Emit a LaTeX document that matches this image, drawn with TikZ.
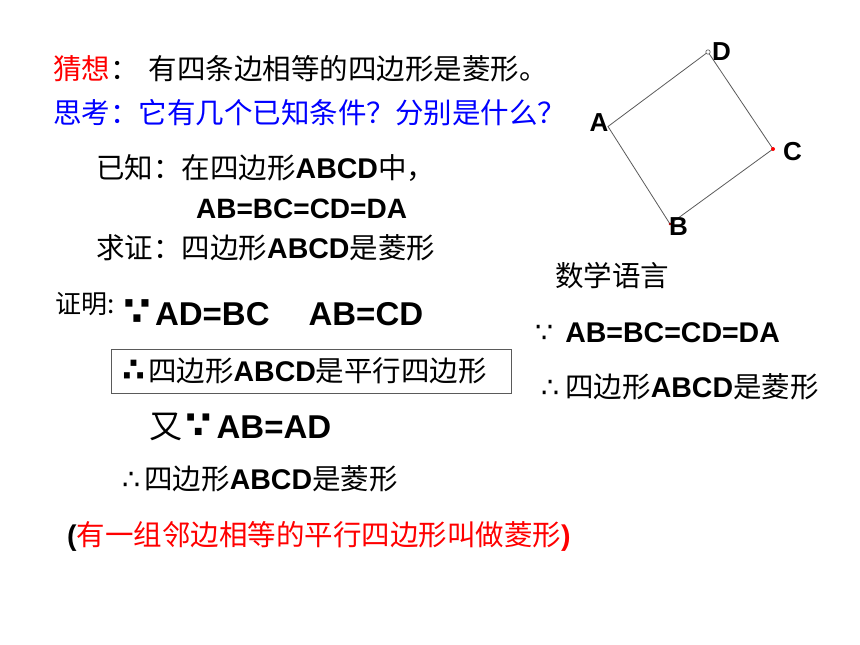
\documentclass[tikz,border=0pt]{standalone}
\usepackage{fontspec}
\setmainfont{Noto Sans CJK SC}
\newfontfamily\lat{Liberation Sans}
\newfontfamily\sym{DejaVu Sans}
\usetikzlibrary{positioning}
\definecolor{pptred}{RGB}{255,0,0}
\definecolor{pptblue}{RGB}{0,0,255}
\definecolor{edgegray}{RGB}{90,90,90}
\newcommand{\fs}[1]{\fontsize{#1}{#1}\selectfont}
\newcommand{\eng}[1]{{\lat\bfseries #1}}
\newcommand{\since}{{\sym ∵}}
\newcommand{\hence}{{\sym ∴}}
\tikzset{
  txt/.style={anchor=base west, inner sep=0pt, font=\fs{28.5}},
  vertex/.style={font=\lat\bfseries\fs{26}, inner sep=0pt},
  side/.style={draw=edgegray, line width=0.8pt},
}

\begin{document}
\begin{tikzpicture}[x=1pt,y=-1pt]
\useasboundingbox (0,0) rectangle (860,645);
% question
\node[txt] (guess) at (53,79.5) {\textcolor{pptred}{猜想}：\hspace{10pt}有四条边相等的四边形是菱形。};
\node[txt, text=pptblue] (think) at (53,123) {思考：它有几个已知条件？分别是什么？};
\node[txt] (given) at (96,178) {已知：在四边形\eng{ABCD}中，};
\node[txt, font=\fs{28}] (sides) at (196,218.5) {\eng{AB=BC=CD=DA}};
\node[txt] (prove) at (96,258) {求证：四边形\eng{ABCD}是菱形};
% proof
\node[txt, font=\fs{26}] (proof) at (55,313) {证明:};
\node[txt, font=\fs{33}] (stepa) at (123,325) {{\sym\bfseries\fs{40}∵}\hspace{4pt}\eng{AD=BC}\hspace{39pt}\eng{AB=CD}};
\node[txt, draw=edgegray, anchor=west, inner xsep=11pt, minimum height=44pt, text width=378pt, align=left] (para) at (111,371) {{\sym\bfseries\fs{33}∴}\hspace{3pt}四边形\eng{ABCD}是平行四边形};
\node[txt, font=\fs{33}] (stepb) at (149,438) {又\hspace{3pt}{\sym\bfseries\fs{38}∵}\hspace{5pt}\eng{AB=AD}};
\node[txt] (concl) at (122,489) {\hence\hspace{4pt}四边形\eng{ABCD}是菱形};
\node[txt] (defn) at (67,545.5) {\eng{(}\textcolor{pptred}{有一组邻边相等的平行四边形叫做菱形\eng{)}}};
% symbolic form
\node[txt] (lang) at (555,286.5) {数学语言};
\node[txt] (rgiven) at (535,342.5) {\since\hspace{12pt}\eng{AB=BC=CD=DA}};
\node[txt] (rconcl) at (541,397.5) {\hence\hspace{6pt}四边形\eng{ABCD}是菱形};
% rhombus
\coordinate (A) at (608,126.5);
\coordinate (B) at (670,224);
\coordinate (C) at (773,149);
\coordinate (D) at (708,52);
\draw[side] (A) -- (D) -- (C) -- (B) -- cycle;
\draw[edgegray, fill=white, line width=0.6pt] (D) circle (2.2pt);
\fill[pptred] (C) circle (2pt);
\fill[pptred!70!black] (B) circle (1.4pt);
\node[vertex] (la) at (599,122.5) {A};
\node[vertex] (lb) at (678.5,227) {B};
\node[vertex] (lc) at (792.5,151.5) {C};
\node[vertex] (ld) at (721.5,51.5) {D};
\end{tikzpicture}
\end{document}
